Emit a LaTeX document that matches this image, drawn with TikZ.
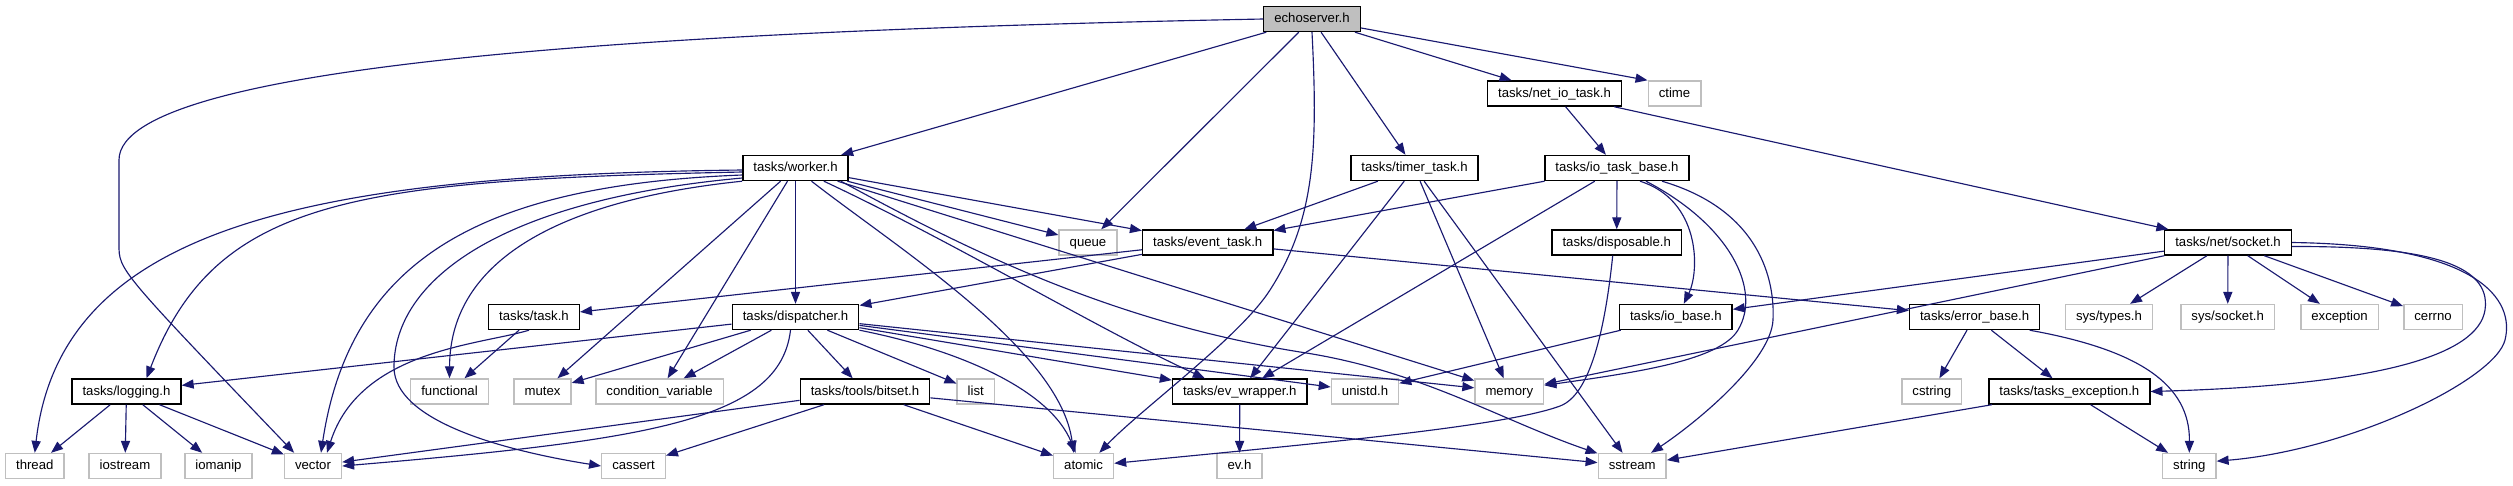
\documentclass[tikz,border=0pt]{standalone}
\usepackage{fontspec}
\setmainfont{Liberation Sans}
\usetikzlibrary{arrows.meta, calc}

\definecolor{grey75}{HTML}{BFBFBF}
\definecolor{edgeblue}{HTML}{191970}

\tikzset{
  inc/.style={draw, line width=0.8pt, fill=white, minimum height=0.5cm,
    inner xsep=6pt, inner ysep=0pt, text height=5.4pt, text depth=1.4pt,
    font=\fontsize{7.5}{9}\selectfont},
  hdr/.style={inc, draw=black},
  sysinc/.style={inc, draw=grey75},
  root/.style={hdr, fill=grey75},
  dep/.style={draw=edgeblue, line width=0.65pt,
    -{Triangle[length=6.8pt,width=5.2pt]}},
}

\begin{document}
\begin{tikzpicture}[x=0.02cm,y=-0.02cm]
\useasboundingbox (0,0) rectangle (2513,485);

\node[root] (echo) at (1312,19) {echoserver.h};

\node[hdr] (netio) at (1554.5,93.5) {tasks/net\_io\_task.h};
\node[sysinc] (ctime) at (1674.5,93.5) {ctime};

\node[hdr] (worker) at (795.5,168) {tasks/worker.h};
\node[hdr] (timer) at (1414.5,168) {tasks/timer\_task.h};
\node[hdr] (iotb) at (1617,168) {tasks/io\_task\_base.h};

\node[sysinc] (queue) at (1088,242.5) {queue};
\node[hdr] (event) at (1207.7,242.5) {tasks/event\_task.h};
\node[hdr] (disp) at (1616.7,242.5) {tasks/disposable.h};
\node[hdr] (sock) at (2228,242.5) {tasks/net/socket.h};

\node[hdr] (task) at (534,317) {tasks/task.h};
\node[hdr] (dispatch) at (795.5,317) {tasks/dispatcher.h};
\node[hdr] (iob) at (1675.8,317) {tasks/io\_base.h};
\node[hdr] (errb) at (1974.6,317) {tasks/error\_base.h};
\node[sysinc] (systypes) at (2109,317) {sys/types.h};
\node[sysinc] (syssock) at (2227.7,317) {sys/socket.h};
\node[sysinc] (except) at (2339.6,317) {exception};
\node[sysinc] (cerrno) at (2433,317) {cerrno};

\node[hdr] (logging) at (126.5,391.5) {tasks/logging.h};
\node[sysinc] (functional) at (449.5,391.5) {functional};
\node[sysinc] (mutex) at (542.5,391.5) {mutex};
\node[sysinc] (condvar) at (659.6,391.5) {condition\_variable};
\node[hdr] (bitset) at (865,391.5) {tasks/tools/bitset.h};
\node[sysinc] (list) at (975.7,391.5) {list};
\node[hdr] (evwrap) at (1239.8,391.5) {tasks/ev\_wrapper.h};
\node[sysinc] (unistd) at (1365,391.5) {unistd.h};
\node[sysinc] (memory) at (1509.3,391.5) {memory};
\node[sysinc] (cstring) at (1931.8,391.5) {cstring};
\node[hdr] (tasksexc) at (2069.3,391.5) {tasks/tasks\_exception.h};

\node[sysinc] (thread) at (34.8,466) {thread};
\node[sysinc] (iostream) at (125,466) {iostream};
\node[sysinc] (iomanip) at (218.5,466) {iomanip};
\node[sysinc] (vector) at (313,466) {vector};
\node[sysinc] (cassert) at (633.5,466) {cassert};
\node[sysinc] (atomic) at (1083.6,466) {atomic};
\node[sysinc] (evh) at (1239.5,466) {ev.h};
\node[sysinc] (sstream) at (1632.2,466) {sstream};
\node[sysinc] (string) at (2189.3,466) {string};

% echoserver.h
\draw[dep] (echo.west) .. controls (700,30) and (119,60) .. (119,160)
    -- (119,245) .. controls (119,270) .. (vector.145);
\draw[dep] (echo) -- (worker);
\draw[dep] (echo) -- (queue);
\draw[dep] (echo.south) .. controls (1318,150) and (1315,220) .. (1270,290)
    .. controls (1240,337) and (1140,410) .. (atomic.40);
\draw[dep] (echo) -- (timer);
\draw[dep] (echo) -- (netio);
\draw[dep] (echo) -- (ctime.north west);

\draw[dep] (netio) -- (iotb);
\draw[dep] (netio) -- (sock);

% worker.h
\draw[dep] ($(worker.west)+(0,2)$) .. controls (300,175) and (60,230) .. (thread.north);
\draw[dep] ($(worker.west)+(0,4)$) .. controls (350,180) and (215,200)
    .. ($(logging.north)+(20,0)$);
\draw[dep] ($(worker.west)+(0,7)$) .. controls (480,185) and (350,260)
    .. ($(vector.north)+(8,0)$);
\draw[dep] ($(worker.west)+(0,10)$) .. controls (500,200) and (394,280) .. (394,367)
    .. controls (394,420) and (500,450) .. (cassert.west);
\draw[dep] (worker.south west) .. controls (560,200) and (450,260) .. (functional.north);
\draw[dep] (worker) -- (mutex);
\draw[dep] (worker) -- (condvar);
\draw[dep] (worker) -- (dispatch);
\draw[dep] ($(worker.south)+(16,0)$) .. controls (900,250) and (1060,350)
    .. ($(atomic.north)+(-10,0)$);
\draw[dep] ($(worker.south east)+(-25,0)$) .. controls (950,240) and (1100,330)
    .. ($(evwrap.north)+(-35,0)$);
\draw[dep] ($(worker.south east)+(-8,0)$) .. controls (950,240) and (1100,320) .. (1300,352)
    .. controls (1420,370) and (1500,420) .. (sstream.160);
\draw[dep] (worker) -- (memory);
\draw[dep] (worker) -- (queue);
\draw[dep] (worker) -- (event);

% dispatcher.h
\draw[dep] (dispatch) -- (logging);
\draw[dep] (dispatch) -- (mutex);
\draw[dep] (dispatch) -- (condvar);
\draw[dep] ($(dispatch.south)+(-5,0)$) .. controls (780,420) and (650,440) .. (vector.east);
\draw[dep] (dispatch) -- (bitset);
\draw[dep] (dispatch) -- (list);
\draw[dep] (dispatch.south east) .. controls (960,350) and (1050,390)
    .. ($(atomic.north)+(-8,0)$);
\draw[dep] (dispatch) -- (evwrap);
\draw[dep] (dispatch) -- (unistd);
\draw[dep] (dispatch) -- (memory);

\draw[dep] (bitset) -- (vector);
\draw[dep] (bitset) -- (cassert);
\draw[dep] (bitset) -- (atomic);
\draw[dep] (bitset) -- (sstream);

\draw[dep] (logging) -- (thread);
\draw[dep] (logging) -- (iostream);
\draw[dep] (logging) -- (iomanip);
\draw[dep] (logging) -- (vector);

\draw[dep] (task) -- (functional);
\draw[dep] ($(task.south)+(-5,0)$) .. controls (480,345) and (360,350)
    .. ($(vector.north)+(14,0)$);

\draw[dep] (event) -- (task);
\draw[dep] (event) -- (dispatch);
\draw[dep] (event) -- (errb);

\draw[dep] (timer) -- (event);
\draw[dep] (timer) -- (evwrap);
\draw[dep] (timer) -- (memory);
\draw[dep] (timer) -- (sstream);

% io_task_base.h
\draw[dep] (iotb) -- (event);
\draw[dep] (iotb) -- (evwrap);
\draw[dep] (iotb) -- (disp);
\draw[dep] ($(iotb.south)+(23,0)$) .. controls (1700,200) and (1700,270)
    .. ($(iob.north)+(8,0)$);
\draw[dep] ($(iotb.south)+(29,0)$) .. controls (1730,225) and (1762,290) .. (1738,330)
    .. controls (1720,360) and (1640,372) .. (memory.10);
\draw[dep] ($(iotb.south)+(45,0)$) .. controls (1760,210) and (1775,280) .. (1773,320)
    .. controls (1771,360) and (1700,420) .. (sstream.35);

\draw[dep] ($(disp.south)+(-4,0)$) .. controls (1605,330) and (1590,395) .. (1560,406)
    .. controls (1504,427) and (1300,445) .. (atomic.5);
\draw[dep] (iob) -- (unistd);
\draw[dep] (evwrap) -- (evh);

% net/socket.h
\draw[dep] (sock) -- (iob);
\draw[dep] (sock) -- (memory);
\draw[dep] (sock) -- (systypes);
\draw[dep] (sock) -- (syssock);
\draw[dep] (sock) -- (except);
\draw[dep] (sock) -- (cerrno);
\draw[dep] ($(sock.east)+(0,4)$) .. controls (2420,246) and (2492,262) .. (2485,310)
    .. controls (2478,355) and (2380,385) .. (tasksexc.east);
\draw[dep] (sock.east) .. controls (2480,245) and (2515,300) .. (2505,340)
    .. controls (2495,380) and (2350,450) .. (string.10);

\draw[dep] (errb) -- (cstring);
\draw[dep] (errb) -- (tasksexc);
\draw[dep] ($(errb.south)+(55,0)$) .. controls (2140,350) and (2190,385) .. (string.north);

\draw[dep] (tasksexc) -- (sstream);
\draw[dep] (tasksexc) -- (string);
\end{tikzpicture}
\end{document}
